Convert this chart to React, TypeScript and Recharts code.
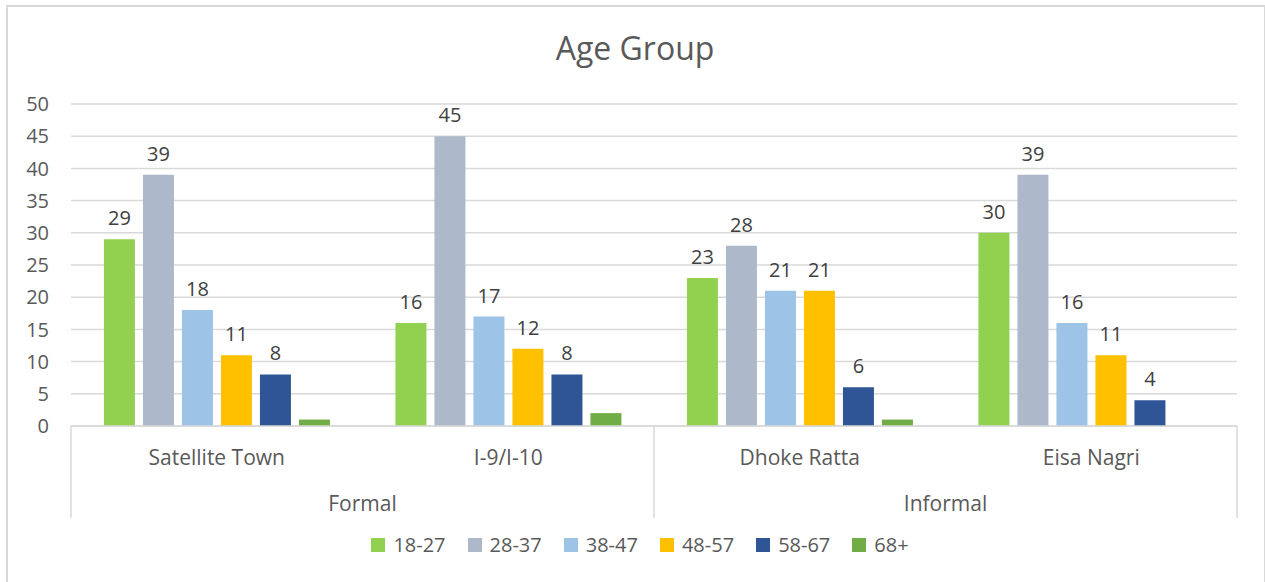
import { BarChart, Bar, XAxis, YAxis, CartesianGrid, LabelList } from 'recharts'

const categories = ['Satellite Town', 'I-9/I-10', 'Dhoke Ratta', 'Eisa Nagri']
const groups = ['Formal', 'Formal', 'Informal', 'Informal']

const age18to27 = [29, 16, 23, 30]
const age28to37 = [39, 45, 28, 39]
const age38to47 = [18, 17, 21, 16]
const age48to57 = [11, 12, 21, 11]
const age58to67 = [8, 8, 6, 4]
const age68plus = [1, 2, 1, 0]

const yTicks = [0, 5, 10, 15, 20, 25, 30, 35, 40, 45, 50]

const series = [
  { key: 'a18', name: '18-27', color: '#92D050', values: age18to27, labels: true },
  { key: 'a28', name: '28-37', color: '#ADB9CA', values: age28to37, labels: true },
  { key: 'a38', name: '38-47', color: '#9DC3E6', values: age38to47, labels: true },
  { key: 'a48', name: '48-57', color: '#FFC000', values: age48to57, labels: true },
  { key: 'a58', name: '58-67', color: '#2F5597', values: age58to67, labels: true },
  { key: 'a68', name: '68+', color: '#70AD47', values: age68plus, labels: false },
]

const data = categories.map((name, i) => {
  const row: Record<string, string | number> = { name, group: groups[i] }
  series.forEach((s) => (row[s.key] = s.values[i]))
  return row
})

const FONT = '"Open Sans", sans-serif'
const GRID = '#d9d9d9'
const PLOT_LEFT = 71
const PLOT_RIGHT = 1237
const AXIS_H = 92

// two-level category axis: place name on top, group name centred under each pair
function CategoryTick(props: any) {
  const { x, y, payload, index } = props
  const half = payload?.offset ?? (PLOT_RIGHT - PLOT_LEFT) / categories.length / 2
  const isGroupStart = index === 0 || groups[index] !== groups[index - 1]
  const isLast = index === categories.length - 1
  return (
    <g>
      <text x={x} y={y + 31} textAnchor="middle" dominantBaseline="central" fill="#595959" fontSize={21} fontFamily={FONT}>
        {payload.value}
      </text>
      {isGroupStart && (
        <>
          <line x1={x - half} x2={x - half} y1={y} y2={y + AXIS_H} stroke={GRID} strokeWidth={1.5} />
          <text x={x + half} y={y + 77} textAnchor="middle" dominantBaseline="central" fill="#595959" fontSize={21} fontFamily={FONT}>
            {groups[index]}
          </text>
        </>
      )}
      {isLast && <line x1={x + half} x2={x + half} y1={y} y2={y + AXIS_H} stroke={GRID} strokeWidth={1.5} />}
    </g>
  )
}

export default function App() {
  return (
    <div style={{ position: 'absolute', left: 0, top: 0, width: 1265, height: 582, overflow: 'hidden', background: '#fff' }}>
      <div style={{ position: 'absolute', left: 6, top: 5, width: 1256, height: 620, border: `2px solid ${GRID}` }} />
      <div
        style={{
          position: 'absolute', left: 0, top: 27, width: 1270, textAlign: 'center',
          fontFamily: FONT, fontSize: 32, color: '#595959', lineHeight: '42px',
        }}
      >
        Age Group
      </div>
      <BarChart
        width={1265}
        height={582}
        data={data}
        margin={{ top: 104, right: 1265 - PLOT_RIGHT, bottom: 582 - 426 - AXIS_H, left: 0 }}
        barCategoryGap="11.3%"
        barGap={8}
        style={{ position: 'absolute', left: 0, top: 0 }}
      >
        <CartesianGrid vertical={false} stroke={GRID} strokeWidth={1.5} />
        <YAxis
          width={PLOT_LEFT}
          domain={[0, 50]}
          ticks={yTicks}
          axisLine={false}
          tickLine={false}
          tickSize={0}
          tickMargin={22}
          tick={{ fill: '#595959', fontSize: 20, fontFamily: FONT }}
        />
        <XAxis
          dataKey="name"
          height={AXIS_H}
          axisLine={{ stroke: GRID, strokeWidth: 1.5 }}
          tickLine={false}
          tickSize={0}
          tickMargin={0}
          interval={0}
          tick={<CategoryTick />}
        />
        {series.map((s) => (
          <Bar key={s.key} dataKey={s.key} name={s.name} fill={s.color} isAnimationActive={false}>
            {s.labels && (
              <LabelList dataKey={s.key} position="top" offset={14} fill="#404040" fontSize={20} fontFamily={FONT} />
            )}
          </Bar>
        ))}
      </BarChart>
      <div
        style={{
          position: 'absolute', left: 0, top: 532, width: 1302, display: 'flex', justifyContent: 'center',
          fontFamily: FONT, fontSize: 20, color: '#595959', lineHeight: '26px',
        }}
      >
        {series.map((s) => (
          <div key={s.key} style={{ display: 'flex', alignItems: 'center', marginRight: 22 }}>
            <span style={{ display: 'inline-block', width: 14, height: 14, background: s.color, marginRight: 8 }} />
            {s.name}
          </div>
        ))}
      </div>
    </div>
  )
}
